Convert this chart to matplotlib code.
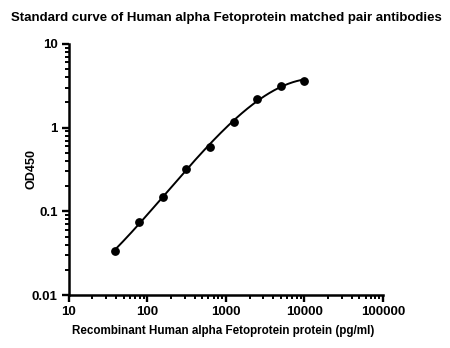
import matplotlib
matplotlib.use("Agg")
import matplotlib.pyplot as plt
import numpy as np
from matplotlib.ticker import LogLocator, FixedLocator, NullFormatter

plt.rcParams["font.family"] = ["Liberation Sans", "DejaVu Sans"]

conc = [39, 78, 156, 312.5, 625, 1250, 2500, 5000, 10000]
od450 = [0.034, 0.074, 0.148, 0.32, 0.59, 1.17, 2.2, 3.15, 3.65]

x_ticks = [10, 100, 1000, 10000, 100000]
x_tick_labels = ["10", "100", "1000", "10000", "100000"]
y_ticks = [0.01, 0.1, 1, 10]
y_tick_labels = ["0.01", "0.1", "1", "10"]

# smooth fit in log-log space
lx = np.log10(conc)
ly = np.log10(od450)
coef = np.polyfit(lx, ly, 3)
fit_x = np.linspace(lx.min(), lx.max(), 200)
fit_y = np.polyval(coef, fit_x)

fig = plt.figure(figsize=(4.5, 3.48), dpi=100)
ax = fig.add_axes([0.153, 0.152, 0.698, 0.722])

ax.plot(10 ** fit_x, 10 ** fit_y, color="black", linewidth=1.4, zorder=2)
ax.scatter(conc, od450, s=28, color="black", zorder=3, clip_on=False)

ax.set_xscale("log")
ax.set_yscale("log")
ax.set_xlim(10, 100000)
ax.set_ylim(0.01, 10)

ax.xaxis.set_major_locator(FixedLocator(x_ticks))
ax.set_xticklabels(x_tick_labels)
ax.yaxis.set_major_locator(FixedLocator(y_ticks))
ax.set_yticklabels(y_tick_labels)
ax.xaxis.set_minor_locator(LogLocator(base=10, subs=np.arange(2, 10)))
ax.yaxis.set_minor_locator(LogLocator(base=10, subs=np.arange(2, 10)))
ax.xaxis.set_minor_formatter(NullFormatter())
ax.yaxis.set_minor_formatter(NullFormatter())

for side in ["top", "right"]:
    ax.spines[side].set_visible(False)
for side in ["left", "bottom"]:
    ax.spines[side].set_linewidth(1.8)

ax.tick_params(which="major", length=5, width=1.7, labelsize=9.5, pad=3)
ax.tick_params(which="minor", length=3, width=1.4)
for lab in ax.get_xticklabels() + ax.get_yticklabels():
    lab.set_fontweight("bold")

ax.set_xlabel("Recombinant Human alpha Fetoprotein protein (pg/ml)", fontsize=8.4, fontweight="bold")
ax.set_ylabel("OD450", fontsize=9, fontweight="bold")
ax.xaxis.set_label_coords(0.49, -0.118)
ax.yaxis.set_label_coords(-0.10, 0.5)
fig.suptitle("Standard curve of Human alpha Fetoprotein matched pair antibodies",
             x=0.503, y=0.965, fontsize=9.5, fontweight="bold")

fig.savefig("out.png", dpi=100)
